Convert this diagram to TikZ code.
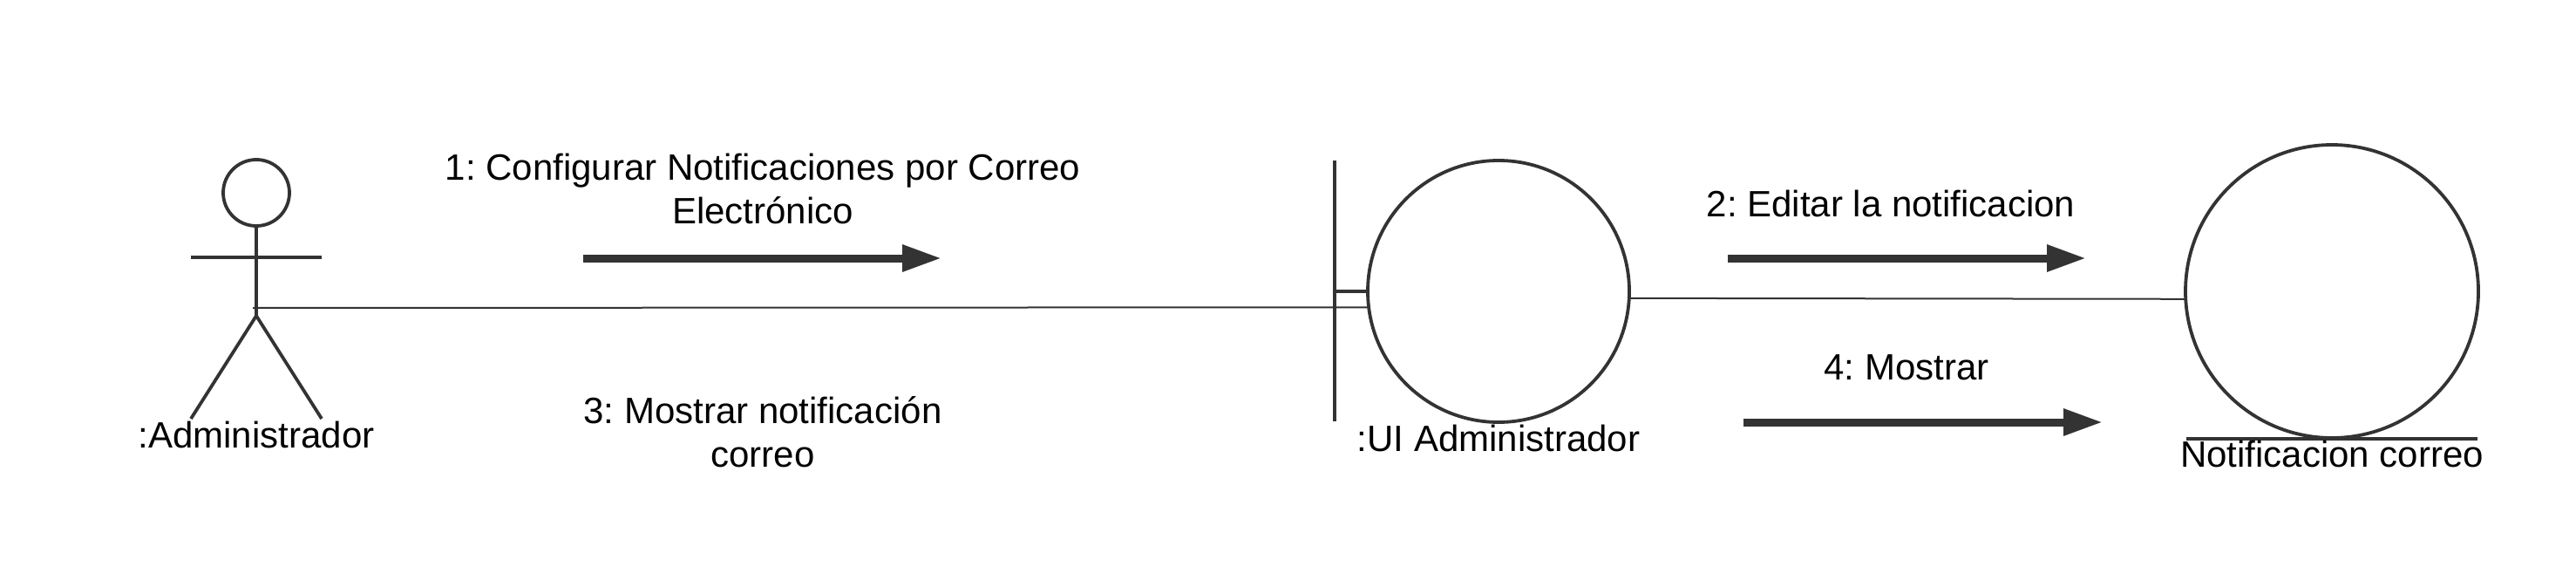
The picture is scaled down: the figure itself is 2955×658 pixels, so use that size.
\documentclass[tikz,border=0pt]{standalone}
\usepackage{fontspec}
\setmainfont{Liberation Sans}
\usetikzlibrary{arrows.meta,positioning}
\definecolor{umlgray}{HTML}{333333}
\frenchspacing
\tikzset{
	lbl/.style={font=\fontsize{42}{50}\selectfont,inner sep=0pt,outer sep=0pt,align=center},
	obj/.style={circle,draw=umlgray,line width=3.8pt,inner sep=0pt,outer sep=0pt},
	part/.style={draw=umlgray,line width=3.8pt},
	conn/.style={draw=umlgray,line width=2pt},
	msg/.style={draw=umlgray,line width=9pt,-{Triangle[length=45pt,width=29pt]}}
}
\begin{document}
\begin{tikzpicture}[x=1pt,y=-1pt]
	\useasboundingbox (0,0) rectangle (2955,658);
	% actor
	\node[obj,minimum size=76pt] (head) at (294,221) {};
	\coordinate (crotch) at (294,362);
	\coordinate (hip) at (290,353);
	\coordinate (armL) at (219,295);
	\coordinate (armR) at (369,295);
	\coordinate (footL) at (219,480);
	\coordinate (footR) at (369,480);
	\draw[part] (head.south) -- (crotch);
	\draw[part] (armL) -- (armR);
	\draw[part] (footL) -- (crotch) -- (footR);
	\node[lbl,anchor=base] (actorlbl) at (294,513) {:Administrador};
	% boundary
	\node[obj,minimum size=300pt] (ui) at (1719,334) {};
	\coordinate (barT) at (1531,184);
	\coordinate (barB) at (1531,483);
	\draw[part] (barT) -- (barB);
	\draw[draw=umlgray,line width=4pt] (ui.west) -- (ui.west -| barT);
	\node[lbl,anchor=base] (uilbl) at (1719,517) {:UI Administrador};
	% entity
	\node[obj,minimum size=336pt] (ent) at (2675,334) {};
	\coordinate (entL) at (2508,503);
	\coordinate (entR) at (2842,503);
	\draw[draw=umlgray,line width=4pt] (entL) -- (entR);
	\node[lbl,anchor=base] (entlbl) at (2675,535) {Notificacion correo};
	% links
	\draw[conn] (hip) -- (ui.187);
	\draw[conn] (ui.-3.6) -- (ent.183.2);
	% messages
	\node[lbl] (m1) at (875,216) {1: Configurar Notificaciones por Correo\\Electrónico};
	\node[lbl,anchor=base] (m2) at (2169,248) {2: Editar la notificacion};
	\node[lbl] (m3) at (875,495) {3: Mostrar notificación\\correo};
	\node[lbl,anchor=base] (m4) at (2187,435) {4: Mostrar};
	\coordinate (a1s) at (669,296);
	\coordinate (a1e) at (1080,296);
	\coordinate (a2s) at (1982,296);
	\coordinate (a2e) at (2393,296);
	\coordinate (a3s) at (2000,484);
	\coordinate (a3e) at (2412,484);
	\draw[msg] (a1s) -- (a1e);
	\draw[msg] (a2s) -- (a2e);
	\draw[msg] (a3s) -- (a3e);
\end{tikzpicture}
\end{document}
